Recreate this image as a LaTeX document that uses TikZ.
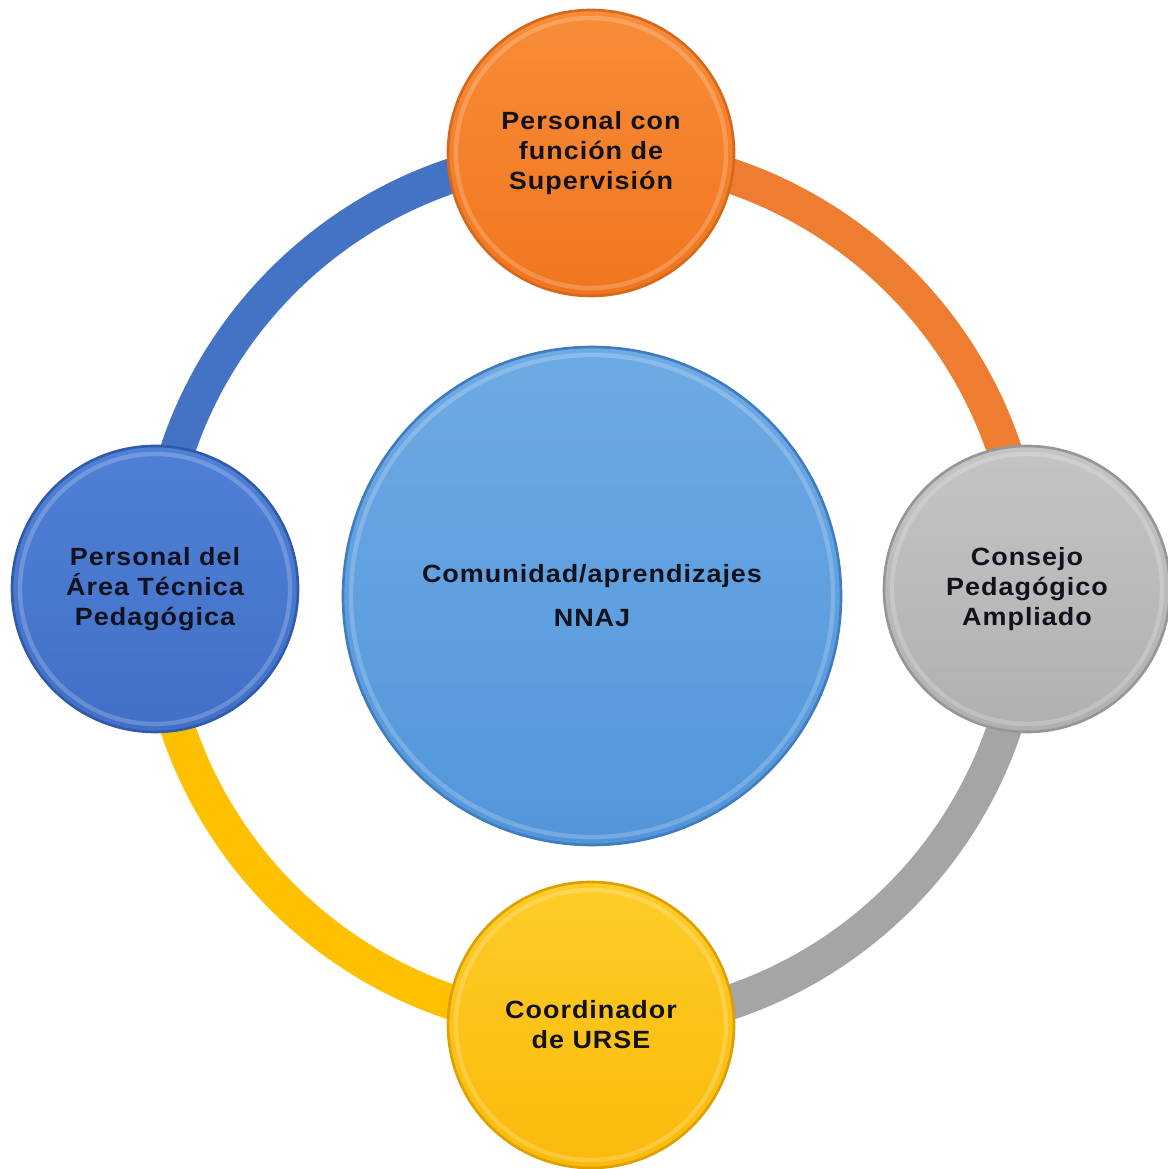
\documentclass[tikz,border=0pt]{standalone}
\usepackage{fontspec}
\usepackage{tikz}
\usetikzlibrary{calc,positioning,backgrounds,shapes}
\newfontfamily\labelfont{Liberation Sans}[FakeStretch=1.08,LetterSpace=4]
\definecolor{orgT}{RGB}{248,140,56}
\definecolor{orgB}{RGB}{240,118,30}
\definecolor{orgE}{RGB}{214,104,28}
\definecolor{orgR}{RGB}{237,125,49}
\definecolor{gryT}{RGB}{196,196,196}
\definecolor{gryB}{RGB}{176,176,176}
\definecolor{gryE}{RGB}{150,150,150}
\definecolor{gryR}{RGB}{165,165,165}
\definecolor{ylwT}{RGB}{254,204,40}
\definecolor{ylwB}{RGB}{250,186,10}
\definecolor{ylwE}{RGB}{222,160,0}
\definecolor{ylwR}{RGB}{255,192,0}
\definecolor{bluT}{RGB}{80,128,214}
\definecolor{bluB}{RGB}{66,112,200}
\definecolor{bluE}{RGB}{48,90,170}
\definecolor{bluR}{RGB}{68,114,196}
\definecolor{hubT}{RGB}{110,170,228}
\definecolor{hubB}{RGB}{82,150,218}
\definecolor{hubE}{RGB}{64,124,190}
\definecolor{txtcol}{RGB}{18,18,30}
\tikzset{%
	actor/.style  = {draw, circle, minimum size=5.72cm, line width=1.5pt, align=center, text=txtcol,
	                 font=\labelfont\bfseries\fontsize{14.2}{17.1}\selectfont,
	                 path picture={\draw[white, opacity=0.2, line width=2.5pt]
	                   (path picture bounding box.center) circle[radius=2.70];}}, % outer circles
	hub/.style    = {draw, circle, minimum size=9.96cm, line width=1.5pt, align=center, text=txtcol,
	                 font=\labelfont\bfseries\fontsize{14.2}{17.1}\selectfont,
	                 path picture={\draw[white, opacity=0.2, line width=2.5pt]
	                   (path picture bounding box.center) circle[radius=4.82];}}, % centre
	ring/.style   = {line width=0.7cm},
}

\begin{document}
\begin{tikzpicture}
	\useasboundingbox (0,0) rectangle (23.34,23.38);
	\coordinate (O) at (11.82,11.60);
	\node[hub, draw=hubE, top color=hubT, bottom color=hubB] (nnaj) at (11.84,11.46) {Comunidad/aprendizajes\\[8pt]NNAJ};
	\node[actor, draw=orgE, top color=orgT, bottom color=orgB] (sup) at ($(O)+(90:8.72)$) {Personal con\\función de\\Supervisión};
	\node[actor, draw=gryE, top color=gryT, bottom color=gryB] (cpa) at ($(O)+(0:8.72)$) {Consejo\\Pedagógico\\Ampliado};
	\node[actor, draw=ylwE, top color=ylwT, bottom color=ylwB] (urse) at ($(O)+(270:8.72)$) {Coordinador\\de URSE};
	\node[actor, draw=bluE, top color=bluT, bottom color=bluB] (atp) at ($(O)+(180:8.72)$) {Personal del\\Área Técnica\\Pedagógica};
	\begin{scope}[on background layer]
		\draw[ring, bluR] (atp.center) arc[start angle=180, end angle=90, radius=8.72];
		\draw[ring, orgR] (sup.center) arc[start angle=90, end angle=0, radius=8.72];
		\draw[ring, gryR] (cpa.center) arc[start angle=0, end angle=-90, radius=8.72];
		\draw[ring, ylwR] (urse.center) arc[start angle=270, end angle=180, radius=8.72];
	\end{scope}
\end{tikzpicture}
\end{document}
